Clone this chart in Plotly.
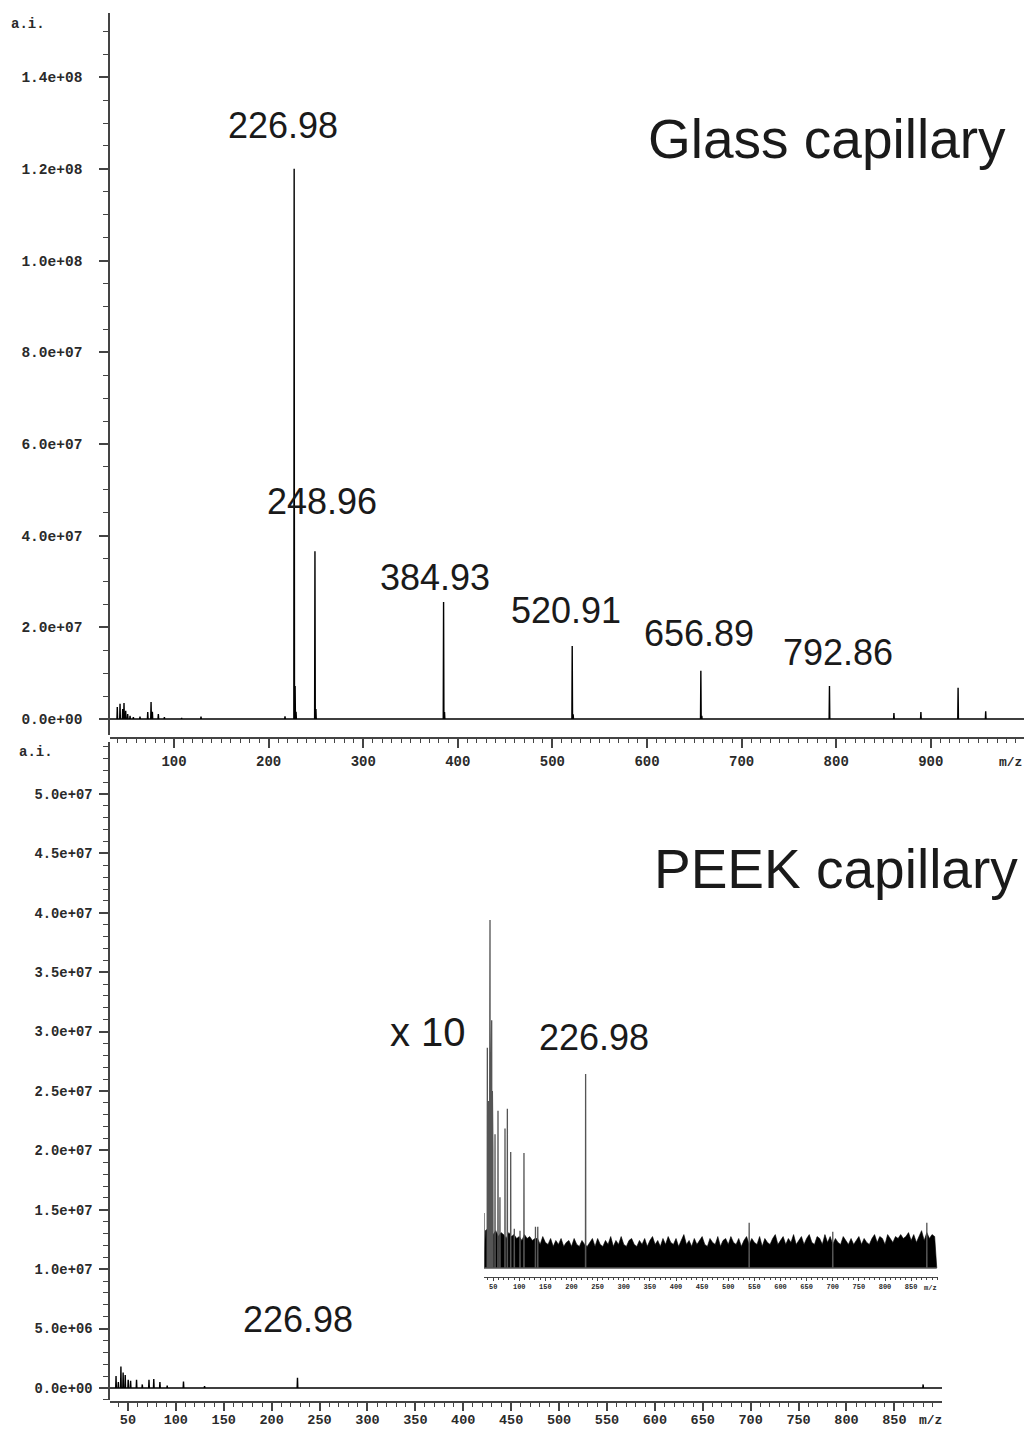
import plotly.graph_objects as go

W, H = 1025, 1429

# ---------------- data ----------------
# Glass capillary spectrum: peak m/z and intensity (a.i.)
glass_mz = [40.0, 42.9, 45.7, 47.1, 48.9, 51.0, 53.5, 57.0, 64.0, 72.2, 75.7, 77.1,
            83.4, 89.8, 108.0, 128.5, 217.3, 226.98, 227.98, 228.98, 248.96, 249.96,
            384.93, 385.93, 520.91, 521.91, 656.89, 657.89, 792.86, 861.0, 889.5,
            928.83, 958.0]
glass_int = [2.6e6, 3.3e6, 2.2e6, 3.5e6, 1.8e6, 1.1e6, 0.7e6, 0.4e6, 0.5e6, 1.5e6, 3.7e6, 1.6e6,
             1.1e6, 0.4e6, 0.2e6, 0.5e6, 0.6e6, 1.2e8, 7.2e6, 1.6e6, 3.66e7, 2.2e6,
             2.55e7, 1.5e6, 1.59e7, 1.0e6, 1.05e7, 0.7e6, 7.2e6, 1.3e6, 1.5e6,
             6.8e6, 1.7e6]

# PEEK capillary spectrum
peek_mz = [37.6, 40.0, 42.7, 45.0, 47.2, 50.3, 52.8, 59.0, 65.0, 72.0, 77.0, 83.4,
           91.0, 108.0, 130.0, 226.98, 880.0]
peek_int = [1.0e6, 0.5e6, 1.8e6, 1.3e6, 1.1e6, 0.7e6, 0.6e6, 0.7e6, 0.3e6, 0.7e6, 0.75e6, 0.5e6,
            0.2e6, 0.55e6, 0.15e6, 0.87e6, 0.3e6]

# PEEK x10 inset (units of 1e6, x10 scale)
inset_mz = [32.5, 38.9, 41.5, 43.0, 44.0, 46.0, 47.2, 48.5, 49.5, 53.6, 59.3, 63.0,
            72.7, 77.2, 83.6, 90.5, 101.4, 109.0, 131.0, 135.4, 226.98, 540.0, 700.0, 880.0]
inset_int = [2.8, 11.2, 8.5, 10.0, 17.7, 9.0, 12.6, 9.0, 6.0, 6.8, 8.0, 3.6,
             7.1, 8.1, 5.9, 2.0, 1.9, 5.85, 2.1, 2.1, 9.87, 2.3, 1.85, 2.3]

# inset noise band upper envelope, every 5 m/z from 35 to 895
noise_start, noise_step = 35, 5
noise_top = [1.9, 2.0, 1.8, 1.7, 1.9, 1.6, 1.8, 1.7, 1.5, 1.8, 1.6, 1.7, 1.5, 1.6, 1.4, 1.7, 1.5, 1.6, 1.4, 1.5,
             1.5, 1.2, 1.6, 1.3, 1.2, 1.5, 1.1, 1.4, 1.2, 1.5, 1.1, 1.3, 1.4, 1.1, 1.5, 1.2, 1.1, 1.4, 1.2, 1.1,
             1.3, 1.5, 1.1, 1.5, 1.2, 1.1, 1.4, 1.2, 1.6, 1.1, 1.4, 1.2, 1.6, 1.2, 1.1, 1.4, 1.5, 1.2, 1.1, 1.4,
             1.2, 1.5, 1.1, 1.4, 1.6, 1.2, 1.4, 1.1, 1.5, 1.2, 1.6, 1.3, 1.2, 1.5, 1.1, 1.4, 1.7, 1.2, 1.4, 1.1,
             1.5, 1.2, 1.4, 1.6, 1.2, 1.1, 1.5, 1.3, 1.2, 1.6, 1.1, 1.4, 1.5, 1.2, 1.6, 1.3, 1.2, 1.5, 1.1, 1.4,
             1.6, 1.2, 1.5, 1.3, 1.2, 1.6, 1.1, 1.5, 1.3, 1.2, 1.5, 1.7, 1.2, 1.4, 1.6, 1.2, 1.5, 1.3, 1.7, 1.2,
             1.4, 1.6, 1.2, 1.5, 1.7, 1.3, 1.2, 1.6, 1.5, 1.2, 1.7, 1.3, 1.6, 1.2, 1.5, 1.3, 1.2, 1.6, 1.4, 1.2,
             1.5, 1.2, 1.4, 1.6, 1.2, 1.5, 1.3, 1.2, 1.5, 1.7, 1.3, 1.6, 1.5, 1.2, 1.7, 1.5, 1.3, 1.6, 1.5, 1.7,
             1.5, 1.6, 1.8, 1.4, 1.7, 1.3, 1.6, 1.9, 1.4, 1.8, 1.5, 1.7, 1.6]
noise_mz = [noise_start + noise_step * i for i in range(len(noise_top))]

glass_xticks = [100, 200, 300, 400, 500, 600, 700, 800, 900]
peek_xticks = [50, 100, 150, 200, 250, 300, 350, 400, 450, 500, 550, 600, 650, 700, 750, 800, 850]
glass_yticks = [0, 2e7, 4e7, 6e7, 8e7, 1.0e8, 1.2e8, 1.4e8]
glass_ytext = ["0.0e+00", "2.0e+07", "4.0e+07", "6.0e+07", "8.0e+07", "1.0e+08", "1.2e+08", "1.4e+08"]
peek_yticks = [0, 5e6, 1e7, 1.5e7, 2e7, 2.5e7, 3e7, 3.5e7, 4e7, 4.5e7, 5e7]
peek_ytext = ["0.0e+00", "5.0e+06", "1.0e+07", "1.5e+07", "2.0e+07", "2.5e+07",
              "3.0e+07", "3.5e+07", "4.0e+07", "4.5e+07", "5.0e+07"]

# ---------------- helpers ----------------
def px(x):
    return x / W

def py(y):
    return 1 - y / H

def sticks(mz, inten, xmin, xmax, half=0.35):
    pairs = sorted(zip(mz, inten))
    xs, ys = [xmin], [0]
    for m, h in pairs:
        xs += [m - half, m, m + half]
        ys += [0, h, 0]
    xs.append(xmax)
    ys.append(0)
    return xs, ys

AX = "#444"
MONO = "Liberation Mono"
SANS = "Liberation Sans"
TXT = "#2a2a2a"

fig = go.Figure()

gx, gy = sticks(glass_mz, glass_int, 32.3, 998.5)
fig.add_trace(go.Scatter(x=gx, y=gy, mode="lines", line=dict(color="black", width=1.4),
                         xaxis="x", yaxis="y", hoverinfo="skip"))

pxs, pys = sticks(peek_mz, peek_int, 31.3, 899.7)
fig.add_trace(go.Scatter(x=pxs, y=pys, mode="lines", line=dict(color="black", width=1.4),
                         xaxis="x2", yaxis="y2", hoverinfo="skip"))

fig.add_trace(go.Scatter(x=[32.5] + noise_mz + [899.0], y=[0] + noise_top + [0], mode="lines",
                         fill="tozeroy", fillcolor="black", line=dict(color="black", width=0.6),
                         xaxis="x3", yaxis="y3", hoverinfo="skip"))
ix, iy = sticks(inset_mz, inset_int, 32.5, 899.0, half=0.3)
fig.add_trace(go.Scatter(x=ix, y=iy, mode="lines", line=dict(color="#555", width=1.3),
                         xaxis="x3", yaxis="y3", hoverinfo="skip"))


def xax(domain, rng, pos, ticks, ticklen=9, minorlen=4, font=None, width=1.5, standoff=0):
    return dict(domain=domain, range=rng, anchor="free", position=pos, automargin=False,
                showline=True, linecolor=AX, linewidth=width, ticks="outside",
                ticklen=ticklen, tickwidth=width, tickcolor=AX,
                tickvals=ticks, ticktext=["<b>%d</b>" % t for t in ticks], tickfont=font,
                ticklabelstandoff=standoff,
                minor=dict(dtick=10, tick0=0, ticklen=minorlen, tickwidth=1, tickcolor=AX, ticks="outside"),
                showgrid=False, zeroline=False, fixedrange=True)

def yax(domain, rng, pos, vals, text, minor, standoff, size):
    return dict(domain=domain, range=rng, anchor="free", position=pos, automargin=False,
                showline=True, linecolor=AX, linewidth=1.5, ticks="outside",
                ticklen=9, tickwidth=1.5, tickcolor=AX,
                tickvals=vals, ticktext=["<b>%s</b>" % t for t in text],
                tickfont=dict(family=MONO, size=size, color=TXT), ticklabelstandoff=standoff,
                minor=dict(dtick=minor, tick0=0, ticklen=5, tickwidth=1, tickcolor=AX, ticks="outside"),
                showgrid=False, zeroline=False, fixedrange=True)

fig.update_layout(
    width=W, height=H, margin=dict(l=0, r=0, t=0, b=0, autoexpand=False),
    paper_bgcolor="white", plot_bgcolor="white", showlegend=False,
    xaxis=xax([px(110), px(1024)], [32.3, 998.5], py(738), glass_xticks,
              font=dict(family=MONO, size=14, color=TXT), standoff=1),
    yaxis=yax([py(735), py(13)], [-3.49e6, 1.54e8], px(109), glass_yticks, glass_ytext, 5e6, 14, 14.5),
    xaxis2=xax([px(110), px(942)], [31.3, 899.7], py(1402), peek_xticks, ticklen=8,
               font=dict(family=MONO, size=13.5, color=TXT), standoff=-3),
    yaxis2=yax([py(1400), py(742)], [-1.01e6, 5.438e7], px(109), peek_yticks, peek_ytext, 1e6, 4, 13.8),
    xaxis3=xax([px(484), px(938)], [32.5, 901.4], py(1277), peek_xticks, ticklen=3, minorlen=2,
               font=dict(family=MONO, size=7, color=TXT), width=1, standoff=0),
    yaxis3=dict(domain=[py(1272), py(900)], range=[-0.2035, 18.72], anchor="x3", automargin=False,
                visible=False, fixedrange=True),
)

def ann(text, x, y, size, family=SANS, color="#1a1a1a"):
    fig.add_annotation(text=text, x=px(x), y=py(y), xref="paper", yref="paper",
                       xanchor="center", yanchor="middle", showarrow=False,
                       font=dict(family=family, size=size, color=color))

# axis captions
ann("<b>a.i.</b>", 28, 24, 14, MONO, TXT)
ann("<b>a.i.</b>", 36, 752, 14, MONO, TXT)
ann("<b>m/z</b>", 1010, 762, 13, MONO, TXT)
ann("<b>m/z</b>", 930, 1420, 13, MONO, TXT)
ann("<b>m/z</b>", 930, 1288, 7, MONO, TXT)

# peak labels and titles
ann("226.98", 283, 126, 36)
ann("248.96", 322, 501, 36)
ann("384.93", 435, 577, 36)
ann("520.91", 566, 610, 36)
ann("656.89", 699, 633, 36)
ann("792.86", 838, 652, 36)
ann("Glass capillary", 827, 139, 55)
ann("PEEK capillary", 836, 869, 55)
ann("x 10", 428, 1032, 40)
ann("226.98", 594, 1037, 36)
ann("226.98", 298, 1319, 36)

fig.write_html("out.html")
